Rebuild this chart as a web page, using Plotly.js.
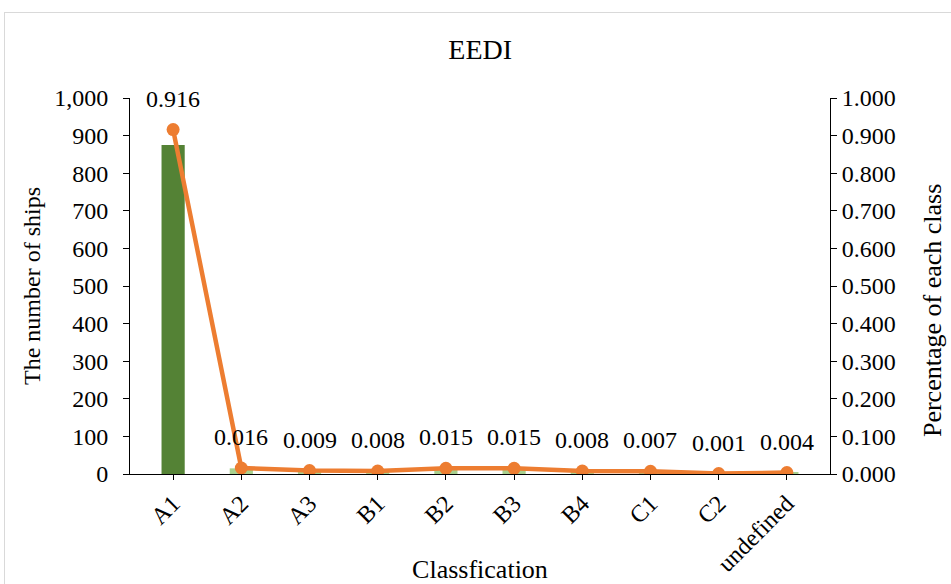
<!DOCTYPE html>
<html><head><meta charset="utf-8">
<script src="https://cdn.plot.ly/plotly-3.0.1.min.js"></script>
<style>
body{margin:0;background:#fff;}
#frame{position:absolute;left:4px;top:12px;width:960px;height:600px;border:1px solid #d9d9d9;box-sizing:border-box;}
#chart{position:absolute;left:0;top:0;width:951px;height:584px;}
</style></head>
<body>
<div id="frame"></div>
<div id="chart"></div>
<script>
const categories = ['A1','A2','A3','B1','B2','B3','B4','C1','C2','undefined'];
const shipCounts = [875, 15, 9, 8, 14, 14, 8, 7, 1, 4];
const percentages = [0.916, 0.016, 0.009, 0.008, 0.015, 0.015, 0.008, 0.007, 0.001, 0.004];
const barColors = ['#548235','#a9d18e','#a9d18e','#a9d18e','#a9d18e','#a9d18e','#a9d18e','#a9d18e','#a9d18e','#a9d18e'];

const font = 'Liberation Serif, Times New Roman, serif';

const bars = {
  type:'bar', x:categories, y:shipCounts, marker:{color:barColors},
  hoverinfo:'skip', showlegend:false
};
const line = {
  type:'scatter', mode:'lines+markers', x:categories, y:percentages, yaxis:'y2',
  line:{color:'#ED7D31', width:4.5}, marker:{color:'#ED7D31', size:13},
  showlegend:false
};
const annotations = categories.map((c,i)=>({
  x:c, y:percentages[i], xref:'x', yref:'y2', text:percentages[i].toFixed(3),
  showarrow:false, yshift:31, font:{family:font, size:24, color:'#000'}
}));
annotations.push({
  text:'Percentage of each class', xref:'paper', yref:'paper', x:1.1457, y:0.436,
  xanchor:'center', yanchor:'middle', textangle:-90, showarrow:false,
  font:{family:font, size:26, color:'#000'}
});

const layout = {
  width:951, height:584,
  margin:{l:130, r:121, t:98, b:110},
  paper_bgcolor:'rgba(0,0,0,0)', plot_bgcolor:'rgba(0,0,0,0)',
  bargap:0.66,
  font:{family:font, size:24, color:'#000'},
  title:{text:'EEDI', font:{family:font, size:28, color:'#000'}, x:0.505, xanchor:'center', y:0.915, yanchor:'middle'},
  xaxis:{
    title:{text:'Classfication', font:{family:font, size:26}, standoff:4},
    tickangle:-45, showline:true, linecolor:'#000', linewidth:1,
    ticks:'outside', ticklen:5, tickcolor:'#000', tickfont:{family:font,size:24},
    showgrid:false, zeroline:false
  },
  yaxis:{
    title:{text:'The number of ships', font:{family:font, size:24}, standoff:6},
    range:[0,1000], dtick:100, tickformat:',d', showline:true, linecolor:'#000', linewidth:1,
    ticks:'outside', ticklen:6, tickcolor:'#000', showgrid:false, zeroline:false,
    tickfont:{family:font,size:24}, ticklabelstandoff:10
  },
  yaxis2:{
    overlaying:'y', side:'right', range:[0,1], dtick:0.1, tickformat:'.3f',
    showline:true, linecolor:'#000', linewidth:1, ticks:'outside', ticklen:6, tickcolor:'#000',
    showgrid:false, zeroline:false, tickfont:{family:font,size:24}
  },
  annotations:annotations
};
Plotly.newPlot('chart',[bars,line],layout,{displayModeBar:false});
</script>
</body></html>
